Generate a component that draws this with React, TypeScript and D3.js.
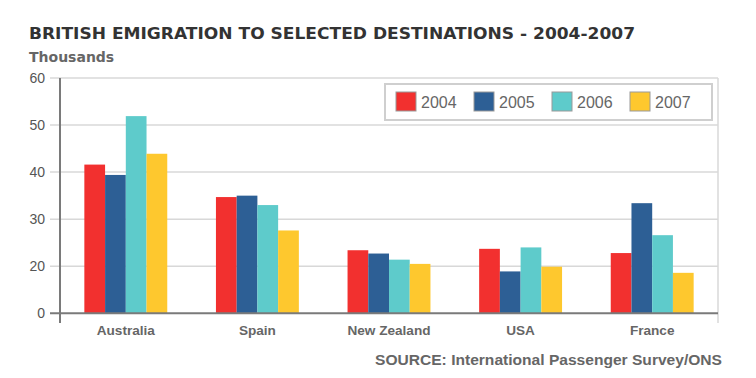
import React, { useEffect, useRef } from "react";
import * as d3 from "d3";

const categories = ["Australia", "Spain", "New Zealand", "USA", "France"];
const years = ["2004", "2005", "2006", "2007"];
const values2004 = [41.6, 34.7, 23.4, 23.7, 22.8];
const values2005 = [39.4, 35.0, 22.7, 18.9, 33.4];
const values2006 = [51.9, 33.0, 21.4, 24.0, 26.6];
const values2007 = [43.9, 27.6, 20.5, 19.9, 18.6];
const seriesValues = [values2004, values2005, values2006, values2007];
const colors = ["#f2302f", "#2d5f95", "#5ecbcb", "#fec82e"];
// the original axis labels its bottom line "0" where 10 would be
const tickValues = [10, 20, 30, 40, 50, 60];
const tickLabels = ["0", "20", "30", "40", "50", "60"];

const W = 756;
const H = 378;
const left = 60;
const right = 718;
const top = 78;
const bottom = 313.3;

export default function App() {
  const ref = useRef<SVGSVGElement>(null);

  useEffect(() => {
    const svg = d3.select(ref.current);
    svg.selectAll("*").remove();

    const y = d3.scaleLinear().domain([10, 60]).range([bottom, top]);
    const x0 = d3.scaleBand<string>().domain(categories).range([left, right]).paddingInner(0.37).paddingOuter(0.185);
    const x1 = d3.scaleBand<string>().domain(years).range([0, x0.bandwidth()]).padding(0);

    svg.append("rect").attr("width", W).attr("height", H).attr("fill", "#fff");

    // title
    svg.append("text").attr("x", 29).attr("y", 39)
      .attr("font-family", "DejaVu Sans").attr("font-weight", "bold").attr("font-size", 15)
      .attr("fill", "#333").attr("textLength", 606).attr("lengthAdjust", "spacingAndGlyphs")
      .text("BRITISH EMIGRATION TO SELECTED DESTINATIONS - 2004-2007");
    svg.append("text").attr("x", 29).attr("y", 62)
      .attr("font-family", "DejaVu Sans").attr("font-weight", "bold").attr("font-size", 14)
      .attr("fill", "#666").text("Thousands");

    // gridlines
    svg.append("g").selectAll("line").data(tickValues.filter(v => v > 10)).join("line")
      .attr("x1", 50).attr("x2", right).attr("y1", d => y(d)).attr("y2", d => y(d))
      .attr("stroke", "#d8d8d8").attr("stroke-width", 1.5);

    // right border
    svg.append("line").attr("x1", right).attr("x2", right).attr("y1", top).attr("y2", 323)
      .attr("stroke", "#d8d8d8").attr("stroke-width", 1.5);

    // tick labels
    svg.append("g").selectAll("text").data(tickValues).join("text")
      .attr("x", 45).attr("y", d => y(d) + 5).attr("text-anchor", "end")
      .attr("font-family", "Liberation Sans, Arial").attr("font-size", 14).attr("fill", "#555")
      .text((d, i) => tickLabels[i]);

    // bars
    const groups = svg.append("g").selectAll("g").data(categories).join("g")
      .attr("transform", d => `translate(${x0(d)},0)`);
    groups.selectAll("rect").data((d, ci) => years.map((yr, si) => ({ yr, v: seriesValues[si][ci], c: colors[si] })))
      .join("rect")
      .attr("x", d => x1(d.yr)!).attr("width", x1.bandwidth())
      .attr("y", d => y(d.v)).attr("height", d => bottom - y(d.v))
      .attr("fill", d => d.c);

    // axes
    svg.append("line").attr("x1", left).attr("x2", left).attr("y1", top).attr("y2", 323)
      .attr("stroke", "#7a7a7a").attr("stroke-width", 2);
    svg.append("line").attr("x1", 50).attr("x2", right).attr("y1", bottom).attr("y2", bottom)
      .attr("stroke", "#7a7a7a").attr("stroke-width", 2);

    // category labels
    svg.append("g").selectAll("text").data(categories).join("text")
      .attr("x", d => x0(d)! + x0.bandwidth() / 2).attr("y", 335).attr("text-anchor", "middle")
      .attr("font-family", "Liberation Sans, Arial").attr("font-weight", "bold").attr("font-size", 13.6)
      .attr("fill", "#666").text(d => d);

    // legend
    svg.append("rect").attr("x", 385).attr("y", 84).attr("width", 327).attr("height", 36)
      .attr("fill", "#fff").attr("stroke", "#cfcfcf").attr("stroke-width", 2);
    const lg = svg.append("g").selectAll("g").data(years).join("g")
      .attr("transform", (d, i) => `translate(${396 + i * 78},92)`);
    lg.append("rect").attr("width", 20).attr("height", 19)
      .attr("fill", (d, i) => colors[i]).attr("stroke", "#999").attr("stroke-width", 1);
    lg.append("text").attr("x", 25).attr("y", 15.5)
      .attr("font-family", "Liberation Sans, Arial").attr("font-size", 16).attr("fill", "#666")
      .text(d => d);

    // source
    svg.append("text").attr("x", 722).attr("y", 365).attr("text-anchor", "end")
      .attr("font-family", "Liberation Sans, Arial").attr("font-weight", "bold").attr("font-size", 14)
      .attr("fill", "#666").attr("textLength", 347).attr("lengthAdjust", "spacingAndGlyphs")
      .text("SOURCE: International Passenger Survey/ONS");
  }, []);

  return (
    <svg ref={ref} width={W} height={H} style={{ position: "absolute", left: 0, top: 0 }} />
  );
}
